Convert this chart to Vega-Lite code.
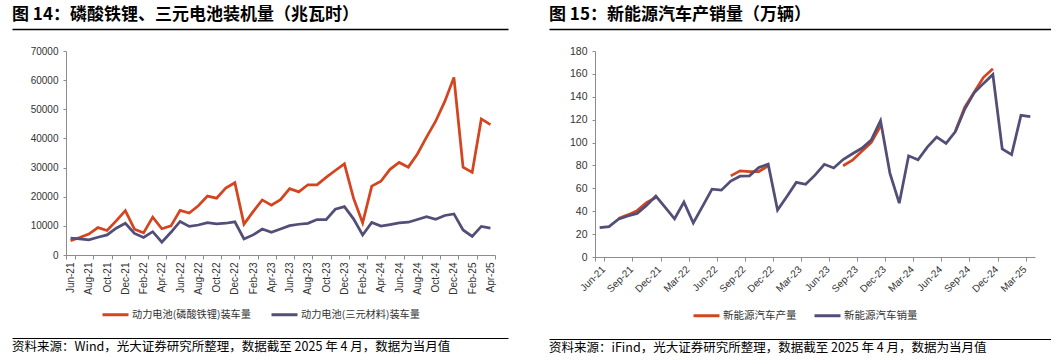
{
  "$schema": "https://vega.github.io/schema/vega-lite/v6.json",
  "background": "white",
  "padding": {"left": 7, "top": 6, "right": 0, "bottom": 0},
  "config": {
    "view": {"stroke": null},
    "font": "Liberation Sans",
    "title": {"font": "Noto Sans CJK SC", "color": "#000000"},
    "axis": {"labelFont": "Liberation Sans", "labelColor": "#333333", "domainColor": "#8c8c8c", "tickColor": "#8c8c8c", "grid": false, "title": null},
    "legend": {"labelFont": "Noto Sans CJK SC", "labelColor": "#333333"}
  },
  "datasets": {
    "left": [
      {"m":"Jun-21","s":"动力电池(磷酸铁锂)装车量","v":4900},{"m":"Jul-21","s":"动力电池(磷酸铁锂)装车量","v":6000},{"m":"Aug-21","s":"动力电池(磷酸铁锂)装车量","v":7200},{"m":"Sep-21","s":"动力电池(磷酸铁锂)装车量","v":9400},{"m":"Oct-21","s":"动力电池(磷酸铁锂)装车量","v":8400},{"m":"Nov-21","s":"动力电池(磷酸铁锂)装车量","v":11700},{"m":"Dec-21","s":"动力电池(磷酸铁锂)装车量","v":15200},{"m":"Jan-22","s":"动力电池(磷酸铁锂)装车量","v":8850},{"m":"Feb-22","s":"动力电池(磷酸铁锂)装车量","v":7600},{"m":"Mar-22","s":"动力电池(磷酸铁锂)装车量","v":13000},{"m":"Apr-22","s":"动力电池(磷酸铁锂)装车量","v":9000},{"m":"May-22","s":"动力电池(磷酸铁锂)装车量","v":10000},{"m":"Jun-22","s":"动力电池(磷酸铁锂)装车量","v":15300},{"m":"Jul-22","s":"动力电池(磷酸铁锂)装车量","v":14400},{"m":"Aug-22","s":"动力电池(磷酸铁锂)装车量","v":16900},{"m":"Sep-22","s":"动力电池(磷酸铁锂)装车量","v":20200},{"m":"Oct-22","s":"动力电池(磷酸铁锂)装车量","v":19500},{"m":"Nov-22","s":"动力电池(磷酸铁锂)装车量","v":23000},{"m":"Dec-22","s":"动力电池(磷酸铁锂)装车量","v":24800},{"m":"Jan-23","s":"动力电池(磷酸铁锂)装车量","v":10600},{"m":"Feb-23","s":"动力电池(磷酸铁锂)装车量","v":14900},{"m":"Mar-23","s":"动力电池(磷酸铁锂)装车量","v":18900},{"m":"Apr-23","s":"动力电池(磷酸铁锂)装车量","v":17100},{"m":"May-23","s":"动力电池(磷酸铁锂)装车量","v":19000},{"m":"Jun-23","s":"动力电池(磷酸铁锂)装车量","v":22750},{"m":"Jul-23","s":"动力电池(磷酸铁锂)装车量","v":21650},{"m":"Aug-23","s":"动力电池(磷酸铁锂)装车量","v":24100},{"m":"Sep-23","s":"动力电池(磷酸铁锂)装车量","v":24100},{"m":"Oct-23","s":"动力电池(磷酸铁锂)装车量","v":26650},{"m":"Nov-23","s":"动力电池(磷酸铁锂)装车量","v":29000},{"m":"Dec-23","s":"动力电池(磷酸铁锂)装车量","v":31300},{"m":"Jan-24","s":"动力电池(磷酸铁锂)装车量","v":19500},{"m":"Feb-24","s":"动力电池(磷酸铁锂)装车量","v":11000},{"m":"Mar-24","s":"动力电池(磷酸铁锂)装车量","v":23650},{"m":"Apr-24","s":"动力电池(磷酸铁锂)装车量","v":25300},{"m":"May-24","s":"动力电池(磷酸铁锂)装车量","v":29400},{"m":"Jun-24","s":"动力电池(磷酸铁锂)装车量","v":31750},{"m":"Jul-24","s":"动力电池(磷酸铁锂)装车量","v":30150},{"m":"Aug-24","s":"动力电池(磷酸铁锂)装车量","v":34650},{"m":"Sep-24","s":"动力电池(磷酸铁锂)装车量","v":40450},{"m":"Oct-24","s":"动力电池(磷酸铁锂)装车量","v":45900},{"m":"Nov-24","s":"动力电池(磷酸铁锂)装车量","v":52700},{"m":"Dec-24","s":"动力电池(磷酸铁锂)装车量","v":60950},{"m":"Jan-25","s":"动力电池(磷酸铁锂)装车量","v":30150},{"m":"Feb-25","s":"动力电池(磷酸铁锂)装车量","v":28350},{"m":"Mar-25","s":"动力电池(磷酸铁锂)装车量","v":46700},{"m":"Apr-25","s":"动力电池(磷酸铁锂)装车量","v":44750},
      {"m":"Jun-21","s":"动力电池(三元材料)装车量","v":5800},{"m":"Jul-21","s":"动力电池(三元材料)装车量","v":5500},{"m":"Aug-21","s":"动力电池(三元材料)装车量","v":5200},{"m":"Sep-21","s":"动力电池(三元材料)装车量","v":6100},{"m":"Oct-21","s":"动力电池(三元材料)装车量","v":6900},{"m":"Nov-21","s":"动力电池(三元材料)装车量","v":9200},{"m":"Dec-21","s":"动力电池(三元材料)装车量","v":10900},{"m":"Jan-22","s":"动力电池(三元材料)装车量","v":7400},{"m":"Feb-22","s":"动力电池(三元材料)装车量","v":6000},{"m":"Mar-22","s":"动力电池(三元材料)装车量","v":8000},{"m":"Apr-22","s":"动力电池(三元材料)装车量","v":4400},{"m":"May-22","s":"动力电池(三元材料)装车量","v":7800},{"m":"Jun-22","s":"动力电池(三元材料)装车量","v":11500},{"m":"Jul-22","s":"动力电池(三元材料)装车量","v":9800},{"m":"Aug-22","s":"动力电池(三元材料)装车量","v":10300},{"m":"Sep-22","s":"动力电池(三元材料)装车量","v":11100},{"m":"Oct-22","s":"动力电池(三元材料)装车量","v":10700},{"m":"Nov-22","s":"动力电池(三元材料)装车量","v":10900},{"m":"Dec-22","s":"动力电池(三元材料)装车量","v":11400},{"m":"Jan-23","s":"动力电池(三元材料)装车量","v":5500},{"m":"Feb-23","s":"动力电池(三元材料)装车量","v":6900},{"m":"Mar-23","s":"动力电池(三元材料)装车量","v":8900},{"m":"Apr-23","s":"动力电池(三元材料)装车量","v":7800},{"m":"May-23","s":"动力电池(三元材料)装车量","v":8950},{"m":"Jun-23","s":"动力电池(三元材料)装车量","v":10050},{"m":"Jul-23","s":"动力电池(三元材料)装车量","v":10550},{"m":"Aug-23","s":"动力电池(三元材料)装车量","v":10850},{"m":"Sep-23","s":"动力电池(三元材料)装车量","v":12150},{"m":"Oct-23","s":"动力电池(三元材料)装车量","v":12150},{"m":"Nov-23","s":"动力电池(三元材料)装车量","v":15700},{"m":"Dec-23","s":"动力电池(三元材料)装车量","v":16600},{"m":"Jan-24","s":"动力电池(三元材料)装车量","v":12400},{"m":"Feb-24","s":"动力电池(三元材料)装车量","v":6850},{"m":"Mar-24","s":"动力电池(三元材料)装车量","v":11200},{"m":"Apr-24","s":"动力电池(三元材料)装车量","v":9950},{"m":"May-24","s":"动力电池(三元材料)装车量","v":10450},{"m":"Jun-24","s":"动力电池(三元材料)装车量","v":11000},{"m":"Jul-24","s":"动力电池(三元材料)装车量","v":11250},{"m":"Aug-24","s":"动力电池(三元材料)装车量","v":12200},{"m":"Sep-24","s":"动力电池(三元材料)装车量","v":13150},{"m":"Oct-24","s":"动力电池(三元材料)装车量","v":12250},{"m":"Nov-24","s":"动力电池(三元材料)装车量","v":13550},{"m":"Dec-24","s":"动力电池(三元材料)装车量","v":14100},{"m":"Jan-25","s":"动力电池(三元材料)装车量","v":8600},{"m":"Feb-25","s":"动力电池(三元材料)装车量","v":6400},{"m":"Mar-25","s":"动力电池(三元材料)装车量","v":9800},{"m":"Apr-25","s":"动力电池(三元材料)装车量","v":9200}
    ],
    "right": [
      {"m":"Jun-21","s":"新能源汽车产量","v":null},{"m":"Jul-21","s":"新能源汽车产量","v":null},{"m":"Aug-21","s":"新能源汽车产量","v":33.6},{"m":"Sep-21","s":"新能源汽车产量","v":36.8},{"m":"Oct-21","s":"新能源汽车产量","v":40.5},{"m":"Nov-21","s":"新能源汽车产量","v":47.5},{"m":"Dec-21","s":"新能源汽车产量","v":52.0},{"m":"Jan-22","s":"新能源汽车产量","v":null},{"m":"Feb-22","s":"新能源汽车产量","v":null},{"m":"Mar-22","s":"新能源汽车产量","v":null},{"m":"Apr-22","s":"新能源汽车产量","v":null},{"m":"May-22","s":"新能源汽车产量","v":null},{"m":"Jun-22","s":"新能源汽车产量","v":null},{"m":"Jul-22","s":"新能源汽车产量","v":null},{"m":"Aug-22","s":"新能源汽车产量","v":70.9},{"m":"Sep-22","s":"新能源汽车产量","v":75.3},{"m":"Oct-22","s":"新能源汽车产量","v":74.7},{"m":"Nov-22","s":"新能源汽车产量","v":74.7},{"m":"Dec-22","s":"新能源汽车产量","v":79.6},{"m":"Jan-23","s":"新能源汽车产量","v":null},{"m":"Feb-23","s":"新能源汽车产量","v":null},{"m":"Mar-23","s":"新能源汽车产量","v":null},{"m":"Apr-23","s":"新能源汽车产量","v":null},{"m":"May-23","s":"新能源汽车产量","v":null},{"m":"Jun-23","s":"新能源汽车产量","v":null},{"m":"Jul-23","s":"新能源汽车产量","v":null},{"m":"Aug-23","s":"新能源汽车产量","v":79.7},{"m":"Sep-23","s":"新能源汽车产量","v":84.6},{"m":"Oct-23","s":"新能源汽车产量","v":92.4},{"m":"Nov-23","s":"新能源汽车产量","v":100.0},{"m":"Dec-23","s":"新能源汽车产量","v":114.5},{"m":"Jan-24","s":"新能源汽车产量","v":null},{"m":"Feb-24","s":"新能源汽车产量","v":null},{"m":"Mar-24","s":"新能源汽车产量","v":null},{"m":"Apr-24","s":"新能源汽车产量","v":null},{"m":"May-24","s":"新能源汽车产量","v":null},{"m":"Jun-24","s":"新能源汽车产量","v":null},{"m":"Jul-24","s":"新能源汽车产量","v":null},{"m":"Aug-24","s":"新能源汽车产量","v":110.0},{"m":"Sep-24","s":"新能源汽车产量","v":131.0},{"m":"Oct-24","s":"新能源汽车产量","v":144.0},{"m":"Nov-24","s":"新能源汽车产量","v":157.0},{"m":"Dec-24","s":"新能源汽车产量","v":164.5},{"m":"Jan-25","s":"新能源汽车产量","v":null},{"m":"Feb-25","s":"新能源汽车产量","v":null},{"m":"Mar-25","s":"新能源汽车产量","v":null},{"m":"Apr-25","s":"新能源汽车产量","v":null},
      {"m":"Jun-21","s":"新能源汽车销量","v":25.6},{"m":"Jul-21","s":"新能源汽车销量","v":26.5},{"m":"Aug-21","s":"新能源汽车销量","v":33.1},{"m":"Sep-21","s":"新能源汽车销量","v":35.8},{"m":"Oct-21","s":"新能源汽车销量","v":38.1},{"m":"Nov-21","s":"新能源汽车销量","v":45.1},{"m":"Dec-21","s":"新能源汽车销量","v":53.2},{"m":"Jan-22","s":"新能源汽车销量","v":43.3},{"m":"Feb-22","s":"新能源汽车销量","v":33.4},{"m":"Mar-22","s":"新能源汽车销量","v":48.0},{"m":"Apr-22","s":"新能源汽车销量","v":29.7},{"m":"May-22","s":"新能源汽车销量","v":44.5},{"m":"Jun-22","s":"新能源汽车销量","v":59.3},{"m":"Jul-22","s":"新能源汽车销量","v":58.4},{"m":"Aug-22","s":"新能源汽车销量","v":66.3},{"m":"Sep-22","s":"新能源汽车销量","v":70.6},{"m":"Oct-22","s":"新能源汽车销量","v":70.9},{"m":"Nov-22","s":"新能源汽车销量","v":78.2},{"m":"Dec-22","s":"新能源汽车销量","v":81.1},{"m":"Jan-23","s":"新能源汽车销量","v":41.0},{"m":"Feb-23","s":"新能源汽车销量","v":52.9},{"m":"Mar-23","s":"新能源汽车销量","v":65.2},{"m":"Apr-23","s":"新能源汽车销量","v":63.5},{"m":"May-23","s":"新能源汽车销量","v":71.5},{"m":"Jun-23","s":"新能源汽车销量","v":81.0},{"m":"Jul-23","s":"新能源汽车销量","v":77.8},{"m":"Aug-23","s":"新能源汽车销量","v":85.2},{"m":"Sep-23","s":"新能源汽车销量","v":90.2},{"m":"Oct-23","s":"新能源汽车销量","v":95.0},{"m":"Nov-23","s":"新能源汽车销量","v":102.1},{"m":"Dec-23","s":"新能源汽车销量","v":119.1},{"m":"Jan-24","s":"新能源汽车销量","v":73.3},{"m":"Feb-24","s":"新能源汽车销量","v":47.0},{"m":"Mar-24","s":"新能源汽车销量","v":88.4},{"m":"Apr-24","s":"新能源汽车销量","v":84.9},{"m":"May-24","s":"新能源汽车销量","v":96.0},{"m":"Jun-24","s":"新能源汽车销量","v":104.8},{"m":"Jul-24","s":"新能源汽车销量","v":99.2},{"m":"Aug-24","s":"新能源汽车销量","v":109.6},{"m":"Sep-24","s":"新能源汽车销量","v":129.3},{"m":"Oct-24","s":"新能源汽车销量","v":143.4},{"m":"Nov-24","s":"新能源汽车销量","v":151.7},{"m":"Dec-24","s":"新能源汽车销量","v":159.5},{"m":"Jan-25","s":"新能源汽车销量","v":94.5},{"m":"Feb-25","s":"新能源汽车销量","v":89.5},{"m":"Mar-25","s":"新能源汽车销量","v":123.8},{"m":"Apr-25","s":"新能源汽车销量","v":122.7}
    ]
  },
  "spacing": 41,
  "resolve": {"scale": {"x": "independent", "y": "independent", "color": "independent"}, "legend": {"color": "independent"}},
  "hconcat": [
    {
      "spacing": 17,
      "resolve": {"scale": {"x": "independent", "y": "independent", "color": "independent"}, "legend": {"color": "independent"}},
      "vconcat": [
        {
          "width": 496, "height": 1,
          "title": {"text": "图 14：磷酸铁锂、三元电池装机量（兆瓦时）", "anchor": "start", "frame": "group", "fontSize": 17, "fontWeight": "bold", "offset": 4},
          "data": {"values": [{}]},
          "mark": {"type": "rule", "opacity": 0},
          "encoding": {"x": {"datum": 0, "type": "quantitative", "scale": {"domain": [0, 1]}, "axis": {"domain": true, "domainColor": "#000000", "domainWidth": 1.5, "ticks": false, "labels": false, "grid": false, "title": null}}}
        },
        {
          "width": 496, "height": 204,
          "data": {"name": "left"},
          "mark": {"type": "line", "strokeWidth": 2.75},
          "encoding": {
            "x": {"field": "m", "type": "ordinal", "sort": null,
              "scale": {"type": "band", "range": [54, 483], "paddingInner": 0, "paddingOuter": 0},
              "axis": {"values": ["Jun-21","Aug-21","Oct-21","Dec-21","Feb-22","Apr-22","Jun-22","Aug-22","Oct-22","Dec-22","Feb-23","Apr-23","Jun-23","Aug-23","Oct-23","Dec-23","Feb-24","Apr-24","Jun-24","Aug-24","Oct-24","Dec-24","Feb-25","Apr-25"],
                "tickBand": "extent", "labelAngle": 270, "labelFontSize": 10, "tickSize": 4, "labelPadding": 3, "title": null}},
            "y": {"field": "v", "type": "quantitative", "scale": {"domain": [0, 70000]},
              "axis": {"values": [0,10000,20000,30000,40000,50000,60000,70000], "format": "d", "offset": -54, "tickSize": 3, "labelPadding": 5, "labelFontSize": 10, "title": null}},
            "color": {"field": "s", "type": "nominal",
              "scale": {"domain": ["动力电池(磷酸铁锂)装车量", "动力电池(三元材料)装车量"], "range": ["#D4441F", "#514E78"]},
              "legend": {"orient": "none", "legendX": 89, "legendY": 249, "direction": "horizontal", "title": null, "symbolType": "stroke", "symbolSize": 676, "symbolStrokeWidth": 3, "labelFontSize": 10.2, "labelOffset": 2, "columnPadding": 14}}
          }
        },
        {
          "width": 496, "height": 1,
          "title": {"text": "资料来源：Wind，光大证券研究所整理，数据截至 2025 年 4 月，数据为当月值", "orient": "bottom", "anchor": "start", "frame": "group", "fontSize": 12.5, "fontWeight": "normal", "offset": 2},
          "data": {"values": [{}]},
          "mark": {"type": "rule", "opacity": 0},
          "encoding": {"x": {"datum": 0, "type": "quantitative", "scale": {"domain": [0, 1]}, "axis": {"orient": "top", "domain": true, "domainColor": "#000000", "domainWidth": 1, "ticks": false, "labels": false, "grid": false, "title": null}}}
        }
      ]
    },
    {
      "spacing": 17,
      "resolve": {"scale": {"x": "independent", "y": "independent", "color": "independent"}, "legend": {"color": "independent"}},
      "vconcat": [
        {
          "width": 502, "height": 1,
          "title": {"text": "图 15：新能源汽车产销量（万辆）", "anchor": "start", "frame": "group", "fontSize": 17, "fontWeight": "bold", "offset": 4},
          "data": {"values": [{}]},
          "mark": {"type": "rule", "opacity": 0},
          "encoding": {"x": {"datum": 0, "type": "quantitative", "scale": {"domain": [0, 1]}, "axis": {"domain": true, "domainColor": "#000000", "domainWidth": 1.5, "ticks": false, "labels": false, "grid": false, "title": null}}}
        },
        {
          "width": 502, "height": 206,
          "data": {"name": "right"},
          "mark": {"type": "line", "strokeWidth": 2.75, "invalid": "break-paths-filter-domains"},
          "encoding": {
            "x": {"field": "m", "type": "ordinal", "sort": null,
              "scale": {"type": "band", "range": [46, 486], "paddingInner": 0, "paddingOuter": 0},
              "axis": {"values": ["Jun-21","Sep-21","Dec-21","Mar-22","Jun-22","Sep-22","Dec-22","Mar-23","Jun-23","Sep-23","Dec-23","Mar-24","Jun-24","Sep-24","Dec-24","Mar-25"],
                "tickBand": "extent", "labelAngle": -45, "labelFontSize": 10, "tickSize": 4, "labelPadding": 3, "title": null}},
            "y": {"field": "v", "type": "quantitative", "scale": {"domain": [0, 180]},
              "axis": {"values": [0,20,40,60,80,100,120,140,160,180], "offset": -46, "tickSize": 3, "labelPadding": 5, "labelFontSize": 10.5, "title": null}},
            "color": {"field": "s", "type": "nominal",
              "scale": {"domain": ["新能源汽车产量", "新能源汽车销量"], "range": ["#D4441F", "#514E78"]},
              "legend": {"orient": "none", "legendX": 143, "legendY": 250, "direction": "horizontal", "title": null, "symbolType": "stroke", "symbolSize": 676, "symbolStrokeWidth": 3, "labelFontSize": 10.5, "labelOffset": 2, "columnPadding": 11}}
          }
        },
        {
          "width": 502, "height": 1,
          "title": {"text": "资料来源：iFind，光大证券研究所整理，数据截至 2025 年 4 月，数据为当月值", "orient": "bottom", "anchor": "start", "frame": "group", "fontSize": 12.5, "fontWeight": "normal", "offset": 2},
          "data": {"values": [{}]},
          "mark": {"type": "rule", "opacity": 0},
          "encoding": {"x": {"datum": 0, "type": "quantitative", "scale": {"domain": [0, 1]}, "axis": {"orient": "top", "domain": true, "domainColor": "#000000", "domainWidth": 1, "ticks": false, "labels": false, "grid": false, "title": null}}}
        }
      ]
    }
  ]
}
